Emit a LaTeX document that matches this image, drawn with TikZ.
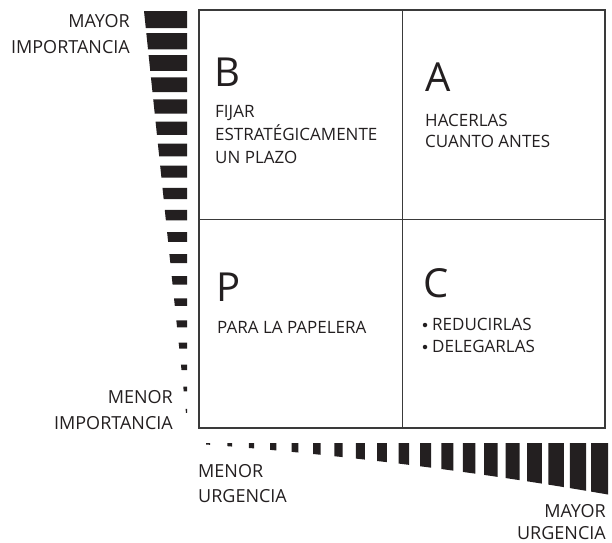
\documentclass[tikz,border=0pt]{standalone}
\usepackage{fontspec}
\setmainfont{Open Sans}
\definecolor{ink}{HTML}{231F20}
\definecolor{frame}{HTML}{3A3A3A}
\begin{document}
\begin{tikzpicture}[x=1pt,y=-1pt,
  axislabel/.style={font=\fontsize{18}{20}\selectfont,text=ink,inner sep=0pt},
  quadtext/.style={font=\fontsize{17}{19}\selectfont,text=ink,inner sep=0pt,anchor=base west},
  bigletter/.style={font=\fontsize{40}{42}\selectfont,text=ink,inner sep=0pt,anchor=base west},
  bulletdot/.style={circle,fill=ink,inner sep=0pt,minimum size=4.5pt},
  framebox/.style={draw=frame,line width=1.3pt},
  bar/.style={fill=ink}]
\useasboundingbox (0,0) rectangle (612,542);

% quadrant frame
\draw[framebox] (199,10) rectangle (605,428);
\coordinate (vtop) at (402.5,10);
\coordinate (vbot) at (402.5,428);
\coordinate (hleft) at (199,219.5);
\coordinate (hright) at (605,219.5);
\draw[framebox] (vtop) -- (vbot);
\draw[framebox] (hleft) -- (hright);

% vertical importance bars
\foreach \i in {0,...,18}{
  \pgfmathsetmacro\yt{11+22.1*\i}
  \pgfmathsetmacro\hh{17-13*\i/18}
  \pgfmathsetmacro\yb{\yt+\hh}
  \pgfmathsetmacro\xlt{144+(\yt-11)/402*42}
  \pgfmathsetmacro\xlb{144+(\yb-11)/402*42}
  \fill[bar] (\xlt,\yt) -- (187,\yt) -- (187,\yb) -- (\xlb,\yb) -- cycle;
}

% horizontal urgency bars
\foreach \i in {0,...,18}{
  \pgfmathsetmacro\xl{206+21.4*\i}
  \pgfmathsetmacro\ww{4+13*\i/18}
  \pgfmathsetmacro\xr{\xl+\ww}
  \pgfmathsetmacro\tl{(\xl-206)/402}
  \pgfmathsetmacro\tr{(\xr-206)/402}
  \pgfmathsetmacro\bl{444.5+30.4*\tl+19.6*\tl*\tl}
  \pgfmathsetmacro\br{444.5+30.4*\tr+19.6*\tr*\tr}
  \fill[bar] (\xl,443) -- (\xr,443) -- (\xr,\br) -- (\xl,\bl) -- cycle;
}

% axis labels
\node[axislabel,anchor=base east] (mayorimp1) at (130,27) {MAYOR};
\node[axislabel,anchor=base east] (mayorimp2) at (130,53) {IMPORTANCIA};
\node[axislabel,anchor=base east] (menorimp1) at (173,403) {MENOR};
\node[axislabel,anchor=base east] (menorimp2) at (173,429) {IMPORTANCIA};
\node[axislabel,anchor=base west] (menorurg1) at (198,477) {MENOR};
\node[axislabel,anchor=base west] (menorurg2) at (198,502) {URGENCIA};
\node[axislabel,anchor=base east] (mayorurg1) at (606,517) {MAYOR};
\node[axislabel,anchor=base east] (mayorurg2) at (606,539) {URGENCIA};

% quadrant B
\node[bigletter] (qB) at (214,86) {B};
\node[quadtext] (b1) at (215,117) {FIJAR};
\node[quadtext] (b2) at (215,140) {ESTRATÉGICAMENTE};
\node[quadtext] (b3) at (215,163) {UN PLAZO};

% quadrant A
\node[bigletter] (qA) at (425,91) {A};
\node[quadtext] (a1) at (425,126) {HACERLAS};
\node[quadtext] (a2) at (425,147) {CUANTO ANTES};

% quadrant P
\node[bigletter] (qP) at (216,301) {P};
\node[quadtext] (p1) at (217,333) {PARA LA PAPELERA};

% quadrant C
\node[bigletter] (qC) at (423,297) {C};
\node[bulletdot] (dot1) at (425,325) {};
\node[quadtext] (c1) at (432,330) {REDUCIRLAS};
\node[bulletdot] (dot2) at (425,347) {};
\node[quadtext] (c2) at (432,352) {DELEGARLAS};
\end{tikzpicture}
\end{document}
